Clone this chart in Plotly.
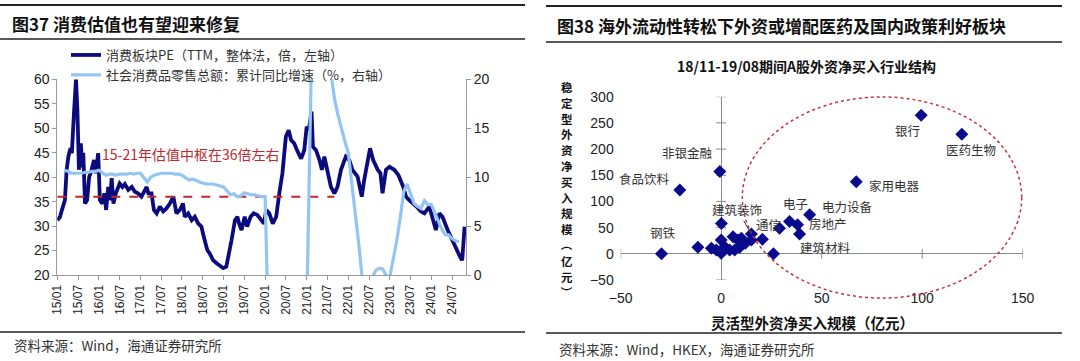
import plotly.graph_objects as go

W, H = 1080, 361
CJK = "Noto Sans CJK SC"
LAT = "Liberation Sans, Arial, Noto Sans CJK SC"
TXT = "#222222"

# ---------------- Left chart data ----------------
tick_labels = ["15/01", "15/07", "16/01", "16/07", "17/01", "17/07", "18/01", "18/07",
               "19/01", "19/07", "20/01", "20/07", "21/01", "21/07", "22/01", "22/07",
               "23/01", "23/07", "24/01", "24/07"]
tick_months = [6 * i for i in range(len(tick_labels))]

pe_month = [0, 0.8, 1.2, 2.2, 2.7, 3.2, 3.8, 4.2, 4.8, 5.4, 5.8, 6.25, 6.8, 7.2, 7.5, 8.0,
            8.6, 9.2, 9.9, 10.6, 11.1, 11.8, 12.3, 13.0, 13.6, 14.1, 14.7, 15.2, 15.7, 16.2,
            16.9, 18.0, 18.8, 19.5, 20.5, 21.5, 22.4, 23.3, 24.3, 25.0, 25.8, 26.3, 27.2,
            27.9, 28.7, 29.6, 30.6, 31.5, 32.5, 33.5, 34.0, 34.4, 35.4, 36.3, 36.8, 37.8,
            38.8, 39.7, 40.7, 41.6, 42.3, 43.3, 44.0, 45.0, 46.0, 46.9, 47.9, 48.8, 49.6,
            50.3, 51.3, 52.0, 52.5, 53.2, 54.1, 54.8, 55.8, 56.7, 57.7, 58.9, 59.7, 60.3,
            61.2, 62.2, 63.2, 64.1, 65.0, 66.0, 66.8, 67.5, 68.4, 69.4, 70.4, 71.3, 72.0,
            72.6, 73.4, 73.8, 74.7, 75.7, 76.4, 77.1, 78.0, 79.0, 80.0, 80.9, 81.9, 83.3,
            84.3, 85.2, 86.7, 87.9, 88.6, 89.6, 90.3, 91.2, 92.5, 93.3, 93.9, 94.9, 95.9,
            97.3, 98.5, 99.9, 100.7, 101.6, 102.8, 103.7, 105.0, 106.0, 107.4, 108.6,
            109.3, 110.3, 111.2, 112.7, 114.0, 115.1, 116.3, 116.9, 117.6]
pe_value = [31.2, 31.9, 33.0, 35.3, 41.5, 44.2, 45.9, 44.9, 53.0, 60.0, 53.7, 41.5, 46.9,
            42.0, 45.0, 34.6, 35.3, 40.0, 41.5, 43.5, 40.8, 44.9, 35.3, 34.6, 36.7, 33.3,
            38.0, 35.3, 39.8, 34.6, 36.7, 38.7, 38.0, 38.6, 37.4, 38.0, 37.0, 36.7, 36.0,
            37.0, 38.0, 36.7, 36.7, 33.3, 32.6, 34.0, 33.0, 33.6, 34.6, 36.0, 34.0, 32.6,
            33.3, 34.6, 31.9, 32.6, 31.2, 31.9, 30.5, 29.9, 27.8, 25.1, 24.4, 23.0, 22.4,
            22.0, 21.4, 21.7, 24.4, 27.1, 31.2, 31.9, 30.5, 29.2, 31.9, 29.9, 31.9, 32.6,
            32.3, 31.2, 30.5, 33.3, 32.6, 30.5, 31.9, 36.7, 40.8, 48.3, 49.6, 47.6, 46.9,
            45.2, 43.8, 45.5, 50.3, 49.6, 53.4, 46.2, 45.5, 43.5, 41.5, 44.2, 41.5, 38.0,
            36.7, 38.0, 41.5, 44.2, 43.5, 41.5, 40.1, 36.0, 39.4, 42.8, 45.9, 43.5, 41.5,
            40.8, 36.7, 41.5, 42.1, 41.5, 40.4, 38.0, 36.0, 35.3, 34.6, 34.0, 33.0, 32.6,
            34.0, 31.2, 29.2, 32.6, 31.9, 29.2, 27.1, 25.8, 23.7, 23.0, 29.9]

retail_month = [12 * y + m for y in range(10) for m in range(2, 13)][:-4]
retail_value = [10.7, 10.6, 10.4, 10.4, 10.4, 10.4, 10.5, 10.5, 10.6, 10.6, 10.7,
                10.2, 10.3, 10.3, 10.2, 10.3, 10.3, 10.3, 10.4, 10.3, 10.4, 10.4,
                9.5, 10.0, 10.2, 10.3, 10.4, 10.4, 10.4, 10.4, 10.3, 10.3, 10.2,
                9.7, 9.8, 9.7, 9.5, 9.4, 9.3, 9.3, 9.3, 9.2, 9.1, 9.0,
                8.2, 8.3, 8.0, 8.1, 8.4, 8.3, 8.2, 8.2, 8.1, 8.0, 8.0,
                -20.5, -19.0, -16.2, -13.5, -11.4, -9.9, -8.6, -7.2, -5.9, -4.8, -3.9,
                33.8, 33.9, 29.6, 25.7, 23.0, 20.7, 18.1, 16.4, 14.9, 13.7, 12.5,
                6.7, 3.3, -0.2, -1.5, -0.7, -0.2, 0.5, 0.7, 0.6, -0.1, -0.2,
                3.5, 5.8, 8.5, 9.3, 8.2, 7.3, 7.0, 6.8, 7.6, 7.2, 7.2,
                5.5, 4.7, 4.1, 4.1, 3.7, 3.5, 3.4]

pe_center_value = 36
pe_center_span = [0, 80]

# ---------------- Right chart data ----------------
sector_label = ["非银金融", "食品饮料", "钢铁", "", "建筑装饰", "通信", "电子", "电力设备",
                "房地产", "建筑材料", "家用电器", "银行", "医药生物",
                "", "", "", "", "", "", "", "", "", "", "", "", "", "", "", ""]
flex_buy = [-0.7, -20.6, -29.7, 0.1, 15.0, 20.5, 34.0, 44.0, 38.0, 39.0, 67.2, 99.5, 119.7,
            29.0, 26.0, 15.0, -11.6, -4.9, -2.4, 0.0, 0.0, 1.7, 4.2, 5.9, 8.3, 10.0, 9.2, 6.7, 12.0]
stable_buy = [157, 122, 0, 58, 38, 27.7, 61.6, 74.5, 55.3, 38, 137.6, 264.8, 228.3,
              49, 0, 26.3, 12.7, 10.5, 7.3, 26.3, 1, 13.6, 7.3, 32.6, 26.3, 29.5, 12.4, 7.3, 20]

x2_ticks = [-50, 0, 50, 100, 150]
y3_ticks = [-50, 0, 50, 100, 150, 200, 250, 300]
x2_range = [-50, 150]
y3_range = [-50, 300]
ellipse_center = (80, 107.5)
ellipse_radius = (69.5, 192)

y_title_chars = "稳定型外资净买入规模（亿元）"

# label offsets in px (dx right, dy down) relative to the point
label_offset = {"非银金融": (-32, -19), "食品饮料": (-35, -11), "钢铁": (1, -21),
                "通信": (6, -15), "电子": (6, -18), "电力设备": (38, -8),
                "房地产": (30, -1), "建筑材料": (26, 14), "家用电器": (38, 4),
                "银行": (-14, 15), "医药生物": (9, 15)}


def px_x(px):
    return px / W


def px_y(py):
    return 1 - py / H


fig = go.Figure()

fig.add_trace(go.Scatter(x=pe_month, y=pe_value, mode="lines", name="消费板块PE（TTM，整体法，倍，左轴）",
                         line=dict(color="#0B0B7E", width=3.8), xaxis="x", yaxis="y"))
fig.add_trace(go.Scatter(x=retail_month, y=retail_value, mode="lines",
                         name="社会消费品零售总额：累计同比增速（%，右轴）",
                         line=dict(color="#94C5F2", width=3.2), xaxis="x", yaxis="y2"))
fig.add_trace(go.Scatter(x=pe_center_span, y=[pe_center_value] * len(pe_center_span), mode="lines",
                         line=dict(color="#C0282D", width=2, dash="dash"), showlegend=False,
                         hoverinfo="skip", xaxis="x", yaxis="y"))

# right chart: axis tick marks on the zero lines
fig.add_trace(go.Scatter(x=x2_ticks, y=[0] * len(x2_ticks), mode="markers", showlegend=False,
                         hoverinfo="skip", marker=dict(symbol="line-ns", size=7,
                                                       line=dict(width=1, color="#8A8A8A")),
                         xaxis="x2", yaxis="y3"))
fig.add_trace(go.Scatter(x=[0] * len(y3_ticks), y=y3_ticks, mode="markers", showlegend=False,
                         hoverinfo="skip", marker=dict(symbol="line-ew", size=7,
                                                       line=dict(width=1, color="#8A8A8A")),
                         xaxis="x2", yaxis="y3"))
fig.add_trace(go.Scatter(x=flex_buy, y=stable_buy, mode="markers", showlegend=False,
                         text=sector_label,
                         marker=dict(symbol="diamond", size=10, color="#0A0A8C"),
                         xaxis="x2", yaxis="y3"))

annotations = []
# point labels
for name, xv, yv in zip(sector_label, flex_buy, stable_buy):
    if name in label_offset:
        dx, dy = label_offset[name]
        annotations.append(dict(x=xv, y=yv, xref="x2", yref="y3", text=name, showarrow=False,
                                xshift=dx, yshift=-dy, font=dict(family=CJK, size=12.5, color="#333")))
    elif name == "建筑装饰":
        annotations.append(dict(x=xv, y=yv, xref="x2", yref="y3", text=name, showarrow=True,
                                arrowhead=0, arrowwidth=1, arrowcolor="#333", ax=-14, ay=-24,
                                font=dict(family=CJK, size=12.5, color="#333")))

# titles and sources
annotations += [
    dict(x=px_x(10), y=px_y(23), xref="paper", yref="paper", xanchor="left", yanchor="middle",
         text="<b>图37 消费估值也有望迎来修复</b>", showarrow=False,
         font=dict(family=CJK, size=17, color="#111")),
    dict(x=px_x(555), y=px_y(25), xref="paper", yref="paper", xanchor="left", yanchor="middle",
         text="<b>图38 海外流动性转松下外资或增配医药及国内政策利好板块</b>", showarrow=False,
         font=dict(family=CJK, size=17, color="#111")),
    dict(x=px_x(12), y=px_y(345), xref="paper", yref="paper", xanchor="left", yanchor="middle",
         text="资料来源：Wind，海通证券研究所", showarrow=False,
         font=dict(family=CJK, size=13.5, color="#333")),
    dict(x=px_x(557), y=px_y(349), xref="paper", yref="paper", xanchor="left", yanchor="middle",
         text="资料来源：Wind，HKEX，海通证券研究所", showarrow=False,
         font=dict(family=CJK, size=13.5, color="#333")),
    dict(x=38.5, y=44.7, xref="x", yref="y", text="15-21年估值中枢在36倍左右", showarrow=False,
         font=dict(family=CJK, size=14, color="#C0282D")),
    dict(x=px_x(806), y=px_y(66), xref="paper", yref="paper", xanchor="center", yanchor="middle",
         text="<b>18/11-19/08期间A股外资净买入行业结构</b>", showarrow=False,
         font=dict(family=CJK, size=14, color="#111")),
    dict(x=px_x(812), y=px_y(322), xref="paper", yref="paper", xanchor="center", yanchor="middle",
         text="<b>灵活型外资净买入规模（亿元）</b>", showarrow=False,
         font=dict(family=CJK, size=14.5, color="#111")),
]
# vertical (stacked) y-axis title of the right chart; brackets turned for vertical writing
for i, ch in enumerate(y_title_chars):
    is_bracket = ch in "（）"
    annotations.append(dict(x=px_x(567), y=px_y(87 + i * 15.8), xref="paper", yref="paper",
                            xanchor="center", yanchor="middle", text="<b>" + ch + "</b>",
                            textangle=90 if is_bracket else 0, showarrow=False, borderpad=0,
                            font=dict(family=CJK, size=11.5, color="#111")))

# ellipse in axis-domain coordinates (not clipped)
def dom_x(v):
    return (v - x2_range[0]) / (x2_range[1] - x2_range[0])


def dom_y(v):
    return (v - y3_range[0]) / (y3_range[1] - y3_range[0])


shapes = [
    dict(type="circle", xref="x2 domain", yref="y3 domain",
         x0=dom_x(ellipse_center[0] - ellipse_radius[0]), x1=dom_x(ellipse_center[0] + ellipse_radius[0]),
         y0=dom_y(ellipse_center[1] - ellipse_radius[1]), y1=dom_y(ellipse_center[1] + ellipse_radius[1]),
         line=dict(color="#C8323C", width=1.5, dash="dot")),
]
for (x0, x1, ys) in [(0, 525, [(5, 2.2), (39, 1.6), (332, 1.6)]),
                     (546, 1062, [(6, 2.2), (42, 1.6), (333, 1.6)])]:
    for yy, wdt in ys:
        shapes.append(dict(type="line", xref="paper", yref="paper", x0=px_x(x0), x1=px_x(x1),
                           y0=px_y(yy), y1=px_y(yy), line=dict(color="#222", width=wdt)))

axis_gray = "#9A9A9A"
fig.update_layout(
    width=W, height=H, margin=dict(l=0, r=0, t=0, b=0),
    paper_bgcolor="white", plot_bgcolor="white",
    font=dict(family=LAT, color=TXT),
    showlegend=True,
    legend=dict(x=px_x(66), y=px_y(40), xanchor="left", yanchor="top", bgcolor="rgba(0,0,0,0)",
                font=dict(family=CJK, size=13, color="#333"), tracegroupgap=0, itemwidth=30),
    xaxis=dict(domain=[px_x(57.3), px_x(466)], range=[0, 118], anchor="y",
               tickmode="array", tickvals=tick_months, ticktext=tick_labels, tickangle=-90,
               ticks="outside", ticklen=4, tickcolor=axis_gray, showline=True, linecolor=axis_gray,
               showgrid=False, zeroline=False, tickfont=dict(size=12, color=TXT), automargin=False),
    yaxis=dict(domain=[px_y(275), px_y(79.3)], range=[20, 60], dtick=5, anchor="x",
               ticks="outside", ticklen=4, tickcolor=axis_gray, showline=True, linecolor=axis_gray,
               showgrid=False, zeroline=False, tickfont=dict(size=14, color=TXT), automargin=False),
    yaxis2=dict(overlaying="y", side="right", range=[0, 20], dtick=5, anchor="x",
                ticks="outside", ticklen=4, tickcolor=axis_gray, showline=True, linecolor=axis_gray,
                showgrid=False, zeroline=False, tickfont=dict(size=14, color=TXT), automargin=False),
    xaxis2=dict(domain=[px_x(620.7), px_x(1022.7)], range=x2_range, anchor="y3",
                tickmode="array", tickvals=x2_ticks, ticks="", showline=False, showgrid=False,
                zeroline=True, zerolinecolor="#8A8A8A", zerolinewidth=1,
                ticklabelstandoff=8, tickfont=dict(size=14, color=TXT), automargin=False),
    yaxis3=dict(domain=[px_y(280), px_y(96.7)], range=y3_range, anchor="x2",
                tickmode="array", tickvals=y3_ticks, ticks="", showline=False, showgrid=False,
                zeroline=True, zerolinecolor="#8A8A8A", zerolinewidth=1,
                ticklabelstandoff=6, tickfont=dict(size=14, color=TXT), automargin=False),
    annotations=annotations,
    shapes=shapes,
)

fig.write_html("out.html", config={"displayModeBar": False},
               post_script="document.body.style.margin='0px';")
